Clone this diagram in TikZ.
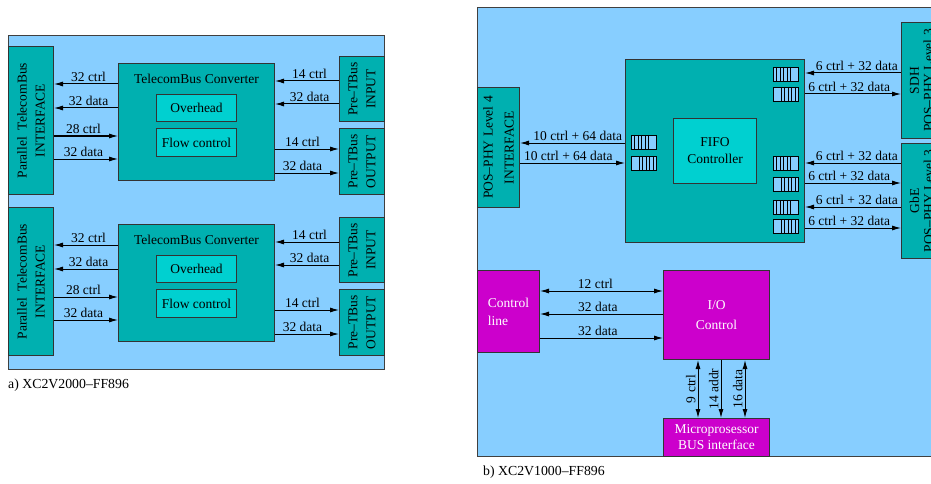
\documentclass[tikz,border=0pt]{standalone}
\usepackage{fontspec}
\setmainfont{Liberation Serif}
\usepackage{tikz}
\usetikzlibrary{positioning,arrows.meta,calc}
\definecolor{panelblue}{RGB}{135,206,255}
\definecolor{boxteal}{RGB}{0,176,176}
\definecolor{innerteal}{RGB}{0,208,208}
\definecolor{boxmag}{RGB}{204,0,204}
\newcommand{\lblfont}{\fontsize{13.5}{16}\selectfont}
\newcommand{\capfont}{\fontsize{13.8}{16}\selectfont}
\tikzset{
  panel/.style  = {draw=black!75, fill=panelblue, line width=1pt, inner sep=0pt, anchor=north west},
  tbox/.style   = {draw=black!80, fill=boxteal, line width=1pt, inner sep=0pt, anchor=north west, align=center, font=\lblfont},
  ibox/.style   = {tbox, fill=innerteal},
  mbox/.style   = {tbox, fill=boxmag, text=white},
  dims/.style 2 args = {minimum width=#1pt, minimum height=#2pt},
  vtext/.style  = {rotate=90, align=center, text=black, font=\fontsize{13.5}{18}\selectfont},
  flow/.style   = {-{Latex[length=9pt,width=5pt]}, line width=1pt},
  bflow/.style  = {{Latex[length=9pt,width=5pt]}-{Latex[length=9pt,width=5pt]}, line width=1pt},
  lab/.style    = {above, pos=.46, inner sep=2pt, font=\lblfont},
  vlab/.style   = {midway, rotate=90, anchor=south, inner sep=2pt, font=\lblfont},
  fifoA/.pic    = {
    \draw[fill=panelblue, line width=.8pt] (0,0) rectangle (25,14);
    \foreach \s in {3.5,7,10.5,14,17.5} \draw[line width=1pt] (\s,0) -- (\s,14);
  },
  fifoB/.pic    = {
    \draw[fill=panelblue, line width=.8pt] (0,0) rectangle (25,14);
    \foreach \s in {8,11.5,15,18.5,22} \draw[line width=1pt] (\s,0) -- (\s,14);
  },
}

\begin{document}
\begin{tikzpicture}[x=1pt, y=-1pt]
  \clip (0,0) rectangle (931,484);

  % a) two telecom bus converters
  \node[panel, dims={376}{334}] (pana) at (8,35) {};
  \node[font=\capfont, anchor=west, inner sep=0pt] (capa) at (8,385) {a) XC2V2000--FF896};
  \foreach \dy/\k in {0/1,161/2}{
    \begin{scope}[yshift=-\dy pt]
      \node[tbox, dims={45}{148}, label={[vtext]center:{Parallel\ \ TelecomBus\\INTERFACE}}] (pif\k) at (8,46) {};
      \node[tbox, dims={156}{117}, label={[font=\lblfont, anchor=north, yshift=-8pt]north:TelecomBus Converter}] (conv\k) at (118,63) {};
      \node[ibox, dims={80}{27}] (ovh\k) at (156,94) {Overhead};
      \node[ibox, dims={80}{28}] (flc\k) at (156,128) {Flow control};
      \node[tbox, dims={45}{65}, label={[vtext]center:{Pre--TBus\\INPUT}}] (pin\k) at (339,56) {};
      \node[tbox, dims={45}{66}, label={[vtext]center:{Pre--TBus\\OUTPUT}}] (pout\k) at (339,128) {};
      \draw[flow] (conv\k.west |- 0,84) -- node[lab]{32 ctrl} (pif\k.east |- 0,84);
      \draw[flow] (conv\k.west |- 0,108) -- node[lab]{32 data} (pif\k.east |- 0,108);
      \draw[flow] (pif\k.east |- 0,136) -- node[lab]{28 ctrl} (conv\k.west |- 0,136);
      \draw[flow] (pif\k.east |- 0,159) -- node[lab]{32 data} (conv\k.west |- 0,159);
      \draw[flow] (pin\k.west |- 0,81) -- node[lab]{14 ctrl} (conv\k.east |- 0,81);
      \draw[flow] (pin\k.west |- 0,104) -- node[lab]{32 data} (conv\k.east |- 0,104);
      \draw[flow] (conv\k.east |- 0,149) -- node[lab, pos=.43]{14 ctrl} (pout\k.west |- 0,149);
      \draw[flow] (conv\k.east |- 0,173) -- node[lab, pos=.43]{32 data} (pout\k.west |- 0,173);
    \end{scope}
  }

  % b) FIFO controller and I/O
  \node[panel, dims={480}{449}] (panb) at (477,7) {};
  \node[font=\capfont, anchor=west, inner sep=0pt] (capb) at (483,472) {b) XC2V1000--FF896};
  \node[tbox, dims={42}{120}, label={[vtext, font=\fontsize{13.5}{21}\selectfont]center:{POS--PHY Level 4\\INTERFACE}}] (pl4) at (477,87) {};
  \node[tbox, dims={179}{183}] (fifo) at (625,59) {};
  \node[ibox, dims={83}{65}, font=\fontsize{13.5}{17}\selectfont] (ctl) at (673,118) {FIFO\\Controller};
  \node[tbox, dims={40}{116}, label={[vtext, font=\fontsize{13.5}{14}\selectfont]center:{SDH\\POS--PHY Level 3}}] (sdh) at (901,22) {};
  \node[tbox, dims={40}{115}, label={[vtext, font=\fontsize{13.5}{14}\selectfont]center:{GbE\\POS--PHY Level 3}}] (gbe) at (901,143) {};

  \pic at (631,135) {fifoA};
  \pic at (631,156) {fifoB};
  \foreach \y in {67,156,200} \pic at (773,\y) {fifoA};
  \foreach \y in {87,177,219} \pic at (773,\y) {fifoB};

  \draw[flow] (fifo.west |- 0,143) -- node[lab, pos=.45]{10 ctrl + 64 data} (pl4.east |- 0,143);
  \draw[flow] (pl4.east |- 0,163) -- node[lab]{10 ctrl + 64 data} (fifo.west |- 0,163);
  \draw[flow] (sdh.west |- 0,73) -- node[lab]{6 ctrl + 32 data} (fifo.east |- 0,73);
  \draw[flow] (fifo.east |- 0,94) -- node[lab]{6 ctrl + 32 data} (sdh.west |- 0,94);
  \foreach \yi/\yo in {163/183,207/228}{
    \draw[flow] (gbe.west |- 0,\yi) -- node[lab]{6 ctrl + 32 data} (fifo.east |- 0,\yi);
    \draw[flow] (fifo.east |- 0,\yo) -- node[lab]{6 ctrl + 32 data} (gbe.west |- 0,\yo);
  }

  \node[mbox, dims={62}{82}, align=left, font=\fontsize{13.5}{18}\selectfont] (cline) at (477,270) {Control\\line};
  \node[mbox, dims={106}{89}, font=\fontsize{13.5}{20}\selectfont] (ioc) at (663,270) {I/O\\Control};
  \node[mbox, dims={106}{38}, font=\fontsize{13.5}{16}\selectfont] (mpb) at (663,418) {Microprosessor\\BUS interface};
  \draw[bflow] (cline.east |- 0,291) -- node[lab, pos=.45]{12 ctrl} (ioc.west |- 0,291);
  \draw[flow] (ioc.west |- 0,314) -- node[lab, pos=.53]{32 data} (cline.east |- 0,314);
  \draw[flow] (cline.east |- 0,338) -- node[lab, pos=.47]{32 data} (ioc.west |- 0,338);
  \draw[bflow] (ioc.south -| 698,0) -- node[vlab]{9 ctrl} (mpb.north -| 698,0);
  \draw[flow] (ioc.south -| 721,0) -- node[vlab]{14 addr} (mpb.north -| 721,0);
  \draw[bflow] (ioc.south -| 745,0) -- node[vlab]{16 data} (mpb.north -| 745,0);
\end{tikzpicture}
\end{document}
